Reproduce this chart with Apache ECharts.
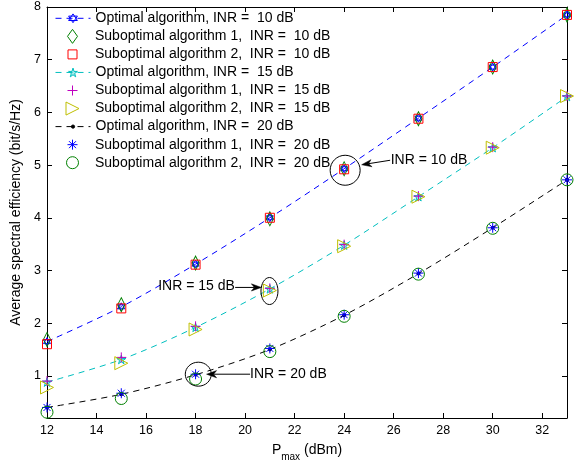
<!DOCTYPE html>
<html>
<head>
<meta charset="utf-8">
<script src="https://cdn.jsdelivr.net/npm/echarts@6/dist/echarts.min.js"></script>
<style>
html,body{margin:0;padding:0;background:#fff;}
#main{width:581px;height:464px;}
</style>
</head>
<body>
<div id="main"></div>
<script>
// ---------------- data ----------------
const pmax = [12, 15, 18, 21, 24, 27, 30, 33];

const opt10  = [1.65, 2.31, 3.12, 4.00, 4.93, 5.89, 6.86, 7.85];
const sub1_10 = [1.69, 2.35, 3.14, 3.98, 4.93, 5.88, 6.86, 7.85];
const sub2_10 = [1.60, 2.28, 3.11, 4.00, 4.92, 5.88, 6.86, 7.85];

const opt15  = [0.88, 1.31, 1.92, 2.65, 3.48, 4.40, 5.33, 6.30];
const sub1_15 = [0.90, 1.35, 1.94, 2.66, 3.49, 4.41, 5.34, 6.31];
const sub2_15 = [0.78, 1.24, 1.88, 2.62, 3.46, 4.40, 5.33, 6.31];

const opt20  = [0.40, 0.65, 1.02, 1.50, 2.15, 2.94, 3.81, 4.72];
const sub1_20 = [0.40, 0.67, 1.03, 1.52, 2.16, 2.95, 3.81, 4.72];
const sub2_20 = [0.31, 0.57, 0.94, 1.46, 2.13, 2.93, 3.80, 4.72];

const xTicks = [12, 14, 16, 18, 20, 22, 24, 26, 28, 30, 32];
const yTicks = [1, 2, 3, 4, 5, 6, 7, 8];

const names = [
  'Optimal algorithm, INR =  10 dB',
  'Suboptimal algorithm 1,  INR =  10 dB',
  'Suboptimal algorithm 2,  INR =  10 dB',
  'Optimal algorithm, INR =  15 dB',
  'Suboptimal algorithm 1,  INR =  15 dB',
  'Suboptimal algorithm 2,  INR =  15 dB',
  'Optimal algorithm, INR =  20 dB',
  'Suboptimal algorithm 1,  INR =  20 dB',
  'Suboptimal algorithm 2,  INR =  20 dB'
];

const annotations = [
  {label: 'INR = 10 dB', at: [24, 4.93]},
  {label: 'INR = 15 dB', at: [21, 2.64]},
  {label: 'INR = 20 dB', at: [18, 1.02]}
];

// ---------------- styling ----------------
const FONT = "'Liberation Sans', Arial, Helvetica, sans-serif";
const SYM = {
  hexagram: 'path://M0,-10L8.66,5L-8.66,5ZM0,10L8.66,-5L-8.66,-5Z',
  pentagram: 'path://M0,-10L2.245,-3.09L9.511,-3.09L3.633,1.18L5.878,8.09L0,3.82L-5.878,8.09L-3.633,1.18L-9.511,-3.09L-2.245,-3.09Z',
  diamond: 'path://M0,-7L5,0L0,7L-5,0Z',
  square: 'path://M0,0L10,0L10,10L0,10Z',
  plus: 'path://M0,-10L0,10M-10,0L10,0',
  asterisk: 'path://M0,-10L0,10M-10,0L10,0M-7,-7L7,7M-7,7L7,-7',
  tri: 'path://M0,0L10,5L0,10Z'
};

function pts(ys) { return pmax.map((x, i) => [x, ys[i]]); }

function optLine(name, ys, color, symbol, size, fill) {
  return {
    name, type: 'line', data: pts(ys), smooth: 0.3,
    symbol, symbolSize: size, symbolKeepAspect: true, showAllSymbol: true,
    lineStyle: {color, width: 1, type: [6, 5]},
    itemStyle: {color: fill, borderColor: color, borderWidth: 1},
    emphasis: {disabled: true}, z: 3
  };
}
function scat(name, ys, color, symbol, size, fill) {
  return {
    name, type: 'scatter', data: pts(ys),
    symbol, symbolSize: size, symbolKeepAspect: true,
    itemStyle: {color: fill || 'rgba(0,0,0,0)', borderColor: color, borderWidth: 1, opacity: 1},
    emphasis: {disabled: true}, z: 4
  };
}

const series = [
  optLine(names[0], opt10, '#0000ff', SYM.hexagram, 8, 'rgba(0,0,0,0)'),
  scat(names[1], sub1_10, '#008000', SYM.diamond, [10, 14]),
  scat(names[2], sub2_10, '#ff0000', SYM.square, 9),
  optLine(names[3], opt15, '#00bfbf', SYM.pentagram, 9, 'rgba(0,191,191,0.35)'),
  scat(names[4], sub1_15, '#bf00bf', SYM.plus, 10),
  scat(names[5], sub2_15, '#bfbf00', SYM.tri, 13),
  optLine(names[6], opt20, '#000000', 'circle', 3, '#000000'),
  scat(names[7], sub1_20, '#0000ff', SYM.asterisk, 10),
  scat(names[8], sub2_20, '#008000', 'circle', 12)
];

// legend icon heights; icon widths (for scatter items the legend box shrinks to the icon)
const legendH = [11, 14, 9, 11, 10, 13, 4, 10, 12];
const legendW = [35, 10, 9, 35, 10, 13, 35, 10, 12];
const legends = names.map((n, i) => {
  const w = legendW[i], h = legendH[i];
  const boxH = Math.max(h + 1, 14);
  const shiftX = w < 35 ? (35 - w) / 2 - 0.5 : 0;
  return {
    data: [n], left: 55 + shiftX, top: 18.3 + i * 18.05 - boxH / 2,
    itemWidth: 35, itemHeight: h, itemGap: 0, padding: 0,
    selectedMode: false, symbolKeepAspect: true,
    textStyle: {fontSize: 14, color: '#000', fontFamily: FONT},
    itemStyle: {borderWidth: 1},
    lineStyle: {width: 1}
  };
});

const axisCommon = {
  type: 'value',
  axisLine: {show: true, onZero: false, lineStyle: {color: '#000', width: 1}},
  splitLine: {show: false}
};

const option = {
  animation: false,
  backgroundColor: '#fff',
  textStyle: {fontFamily: FONT},
  grid: {left: 47, right: 14, top: 7, bottom: 46, containLabel: false, outerBoundsMode: 'none'},
  legend: legends,
  xAxis: [
    Object.assign({}, axisCommon, {
      min: 12, max: 33, position: 'bottom',
      axisTick: {inside: true, length: 5, customValues: xTicks, lineStyle: {color: '#000'}},
      axisLabel: {customValues: xTicks, fontSize: 12.5, color: '#000', margin: 6, fontFamily: FONT},
      name: '{p|P}{s|max}{p| (dBm)}', nameLocation: 'middle', nameGap: 25,
      nameTextStyle: {
        color: '#000', fontFamily: FONT,
        rich: {
          p: {fontSize: 14, lineHeight: 16, verticalAlign: 'top', color: '#000', fontFamily: FONT},
          s: {fontSize: 10, lineHeight: 10, padding: [9, 0, 0, 0], verticalAlign: 'top', color: '#000', fontFamily: FONT}
        }
      }
    }),
    Object.assign({}, axisCommon, {
      min: 12, max: 33, position: 'top',
      axisTick: {inside: true, length: 5, customValues: xTicks, lineStyle: {color: '#000'}},
      axisLabel: {show: false}
    })
  ],
  yAxis: [
    Object.assign({}, axisCommon, {
      min: 0.2, max: 8, position: 'left',
      axisTick: {inside: true, length: 5, customValues: yTicks, lineStyle: {color: '#000'}},
      axisLabel: {customValues: yTicks, fontSize: 12.5, color: '#000', margin: 6, fontFamily: FONT},
      name: 'Average spectral efficiency (bit/s/Hz)', nameLocation: 'middle', nameGap: 12, nameRotate: 90,
      nameTextStyle: {fontSize: 14, color: '#000', fontFamily: FONT}
    }),
    Object.assign({}, axisCommon, {
      min: 0.2, max: 8, position: 'right',
      axisTick: {inside: true, length: 5, customValues: yTicks, lineStyle: {color: '#000'}},
      axisLabel: {show: false}
    })
  ],
  series
};

const chart = echarts.init(document.getElementById('main'), null, {renderer: 'canvas'});
chart.setOption(option);

// ---------------- annotations (ellipse + arrow + text) ----------------
// pixel offsets relative to the anchor data point
const annoLayout = [
  {ell: [1, 1.5, 15, 15], from: [46, -8.5], to: [17.5, -4], text: [46.5, -8.5], align: 'left'},
  {ell: [-0.4, 1.6, 8.5, 13.5], from: [-34.7, -2], to: [-8.5, -2], text: [-35, -3.4], align: 'right'},
  {ell: [2.7, -0.6, 13, 12], from: [54.5, -0.6], to: [11, -0.6], text: [54.5, -0.6], align: 'left'}
];

function arrow(x1, y1, x2, y2) {
  const dx = x2 - x1, dy = y2 - y1, L = Math.hypot(dx, dy);
  const ux = dx / L, uy = dy / L, nx = -uy, ny = ux;
  const hl = 10, hw = 3.6, notch = 7;
  const bx = x2 - ux * hl, by = y2 - uy * hl;
  const mx = x2 - ux * notch, my = y2 - uy * notch;
  return [
    {type: 'line', shape: {x1, y1, x2: mx, y2: my}, style: {stroke: '#000', lineWidth: 1}, z: 100},
    {type: 'polygon', shape: {points: [[x2, y2], [bx + nx * hw, by + ny * hw], [mx, my], [bx - nx * hw, by - ny * hw]]},
      style: {fill: '#000', stroke: '#000', lineWidth: 0.5}, z: 100}
  ];
}

const graphics = [];
annotations.forEach((a, i) => {
  const p = chart.convertToPixel({xAxisIndex: 0, yAxisIndex: 0}, a.at);
  const L = annoLayout[i];
  graphics.push({type: 'ellipse', shape: {cx: p[0] + L.ell[0], cy: p[1] + L.ell[1], rx: L.ell[2], ry: L.ell[3]},
    style: {fill: 'none', stroke: '#000', lineWidth: 1}, z: 100});
  arrow(p[0] + L.from[0], p[1] + L.from[1], p[0] + L.to[0], p[1] + L.to[1]).forEach(g => graphics.push(g));
  graphics.push({type: 'text', x: p[0] + L.text[0], y: p[1] + L.text[1],
    style: {text: a.label, fill: '#000', font: '14px ' + FONT, textAlign: L.align, textVerticalAlign: 'middle'}, z: 100});
});
chart.setOption({graphic: graphics});
</script>
</body>
</html>
